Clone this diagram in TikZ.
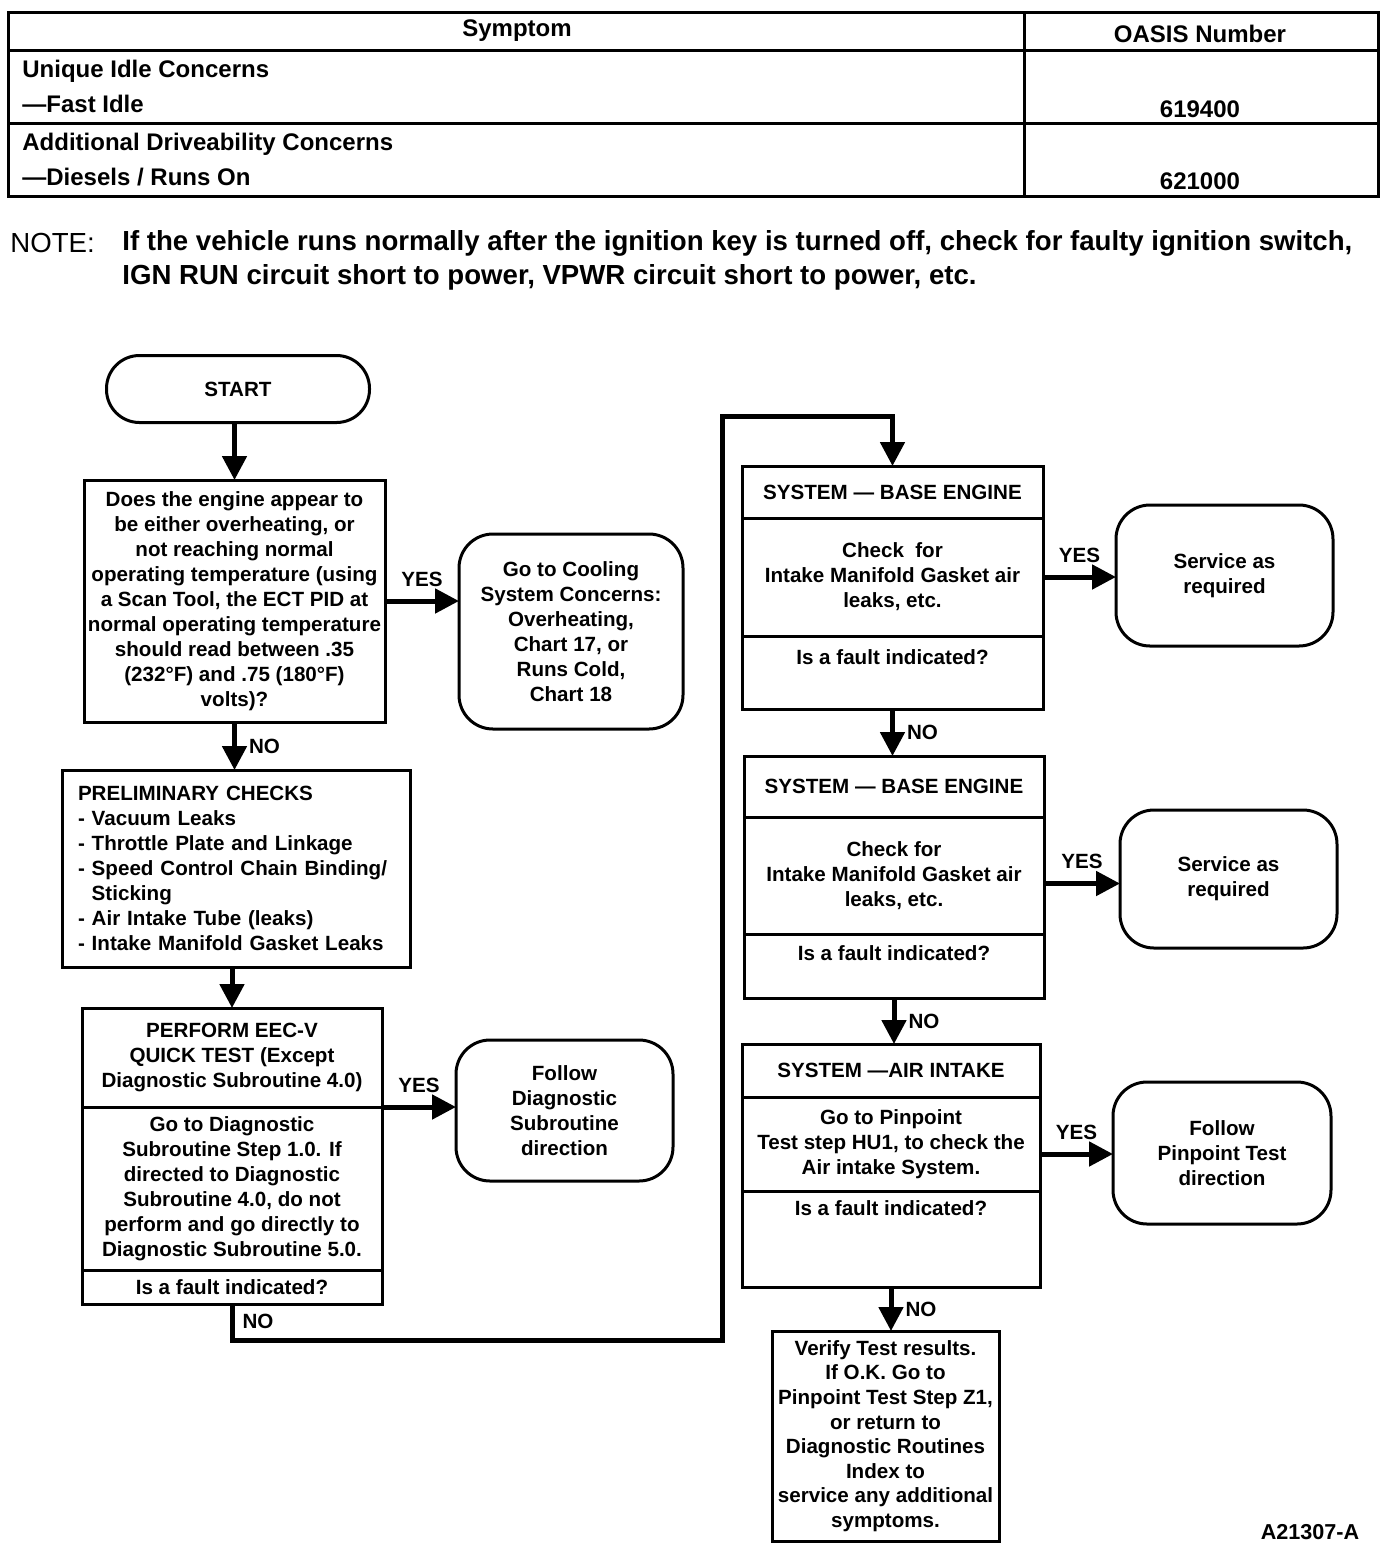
\documentclass[tikz,border=0pt]{standalone}
\usepackage{fontspec}
\setmainfont{Liberation Sans}
\usetikzlibrary{arrows.meta,positioning}

\newcommand\flowfont{\fontsize{10.3}{12.5}\selectfont\bfseries}
\newcommand\tabfont{\fontsize{12}{14}\selectfont\bfseries}
\newcommand\notefont{\fontsize{13.8}{17}\selectfont}

\begin{document}
\begin{tikzpicture}[x=0.5pt, y=-0.5pt, >={Triangle[length=12pt,width=12pt]},
  box/.style={draw, line width=1.5pt, outer sep=0pt, align=center, font=\flowfont, inner sep=1pt},
  rbox/.style={box, rounded corners=17pt},
  fault/.style={box, inner ysep=0pt},
  flow/.style={line width=2.5pt, ->},
  lbl/.style={font=\flowfont, inner sep=1pt},
  txt/.style={inner sep=0pt}]
\useasboundingbox (0,0) rectangle (1392,1560);
% symptom table
\draw[line width=1.5pt] (8,12) rectangle (1378,196);
\draw[line width=1.5pt] (8,50) -- (1378,50) (8,123) -- (1378,123) (1024,12) -- (1024,196);
\node[txt, font=\tabfont] (symhd) at (517,31) {Symptom};
\node[txt, font=\tabfont] (oasishd) at (1200,34) {OASIS Number};
\node[txt, font=\tabfont, anchor=west] (idle) at (22,71) {Unique Idle Concerns};
\node[txt, font=\tabfont, anchor=west] (fast) at (22,104) {—Fast Idle};
\node[txt, font=\tabfont] (num1) at (1200,109) {619400};
\node[txt, font=\tabfont, anchor=west] (drive) at (22,144) {Additional Driveability Concerns};
\node[txt, font=\tabfont, anchor=west] (diesel) at (22,177) {—Diesels / Runs On};
\node[txt, font=\tabfont] (num2) at (1200,181) {621000};
% note
\node[txt, font=\notefont, anchor=west] (notehd) at (10,243) {NOTE:};
\node[txt, font=\notefont\bfseries, anchor=west, align=left] (notetxt) at (122,260)
  {If the vehicle runs normally after the ignition key is turned off, check for faulty ignition switch,\\
   IGN RUN circuit short to power, VPWR circuit short to power, etc.};
% left column
\node[box, rounded corners=16.5pt, minimum width=131.5pt, minimum height=33.5pt] (start) at (238,389) {START};
\node[box, minimum width=150.5pt, minimum height=121pt] (q1) at (234.5,601)
  {Does the engine appear to\\be either overheating, or\\not reaching normal\\operating temperature (using\\
   a Scan Tool, the ECT PID at\\normal operating temperature\\should read between .35\\(232°F) and .75 (180°F)\\volts)?};
\node[rbox, minimum width=112pt, minimum height=97.5pt] (cool) at (571,631.5)
  {Go to Cooling\\System Concerns:\\Overheating,\\Chart 17, or\\Runs Cold,\\Chart 18};
\node[box, align=left, inner xsep=8pt, text width=158pt, minimum height=98.5pt] (prelim) at (236,868.5)
  {PRELIMINARY CHECKS\\- Vacuum Leaks\\- Throttle Plate and Linkage\\- Speed Control Chain Binding/\\
   \hphantom{-~}Sticking\\- Air Intake Tube (leaks)\\- Intake Manifold Gasket Leaks};
% quick test
\node[box, minimum width=150pt, minimum height=49.5pt] (ptitle) at (232,1057.5)
  {PERFORM EEC-V\\QUICK TEST (Except\\Diagnostic Subroutine 4.0)};
\node[box, minimum width=150pt, minimum height=81.5pt, below=0pt of ptitle] (pbody)
  {Go to Diagnostic\\Subroutine Step 1.0. If\\directed to Diagnostic\\Subroutine 4.0, do not\\
   perform and go directly to\\Diagnostic Subroutine 5.0.};
\node[box, minimum width=150pt, minimum height=17pt, below=0pt of pbody] (pfault) {Is a fault indicated?};
\node[rbox, minimum width=108.5pt, minimum height=70.5pt] (follow) at (564.5,1110.5)
  {Follow\\Diagnostic\\Subroutine\\direction};
% right column
\node[box, minimum width=150.5pt, minimum height=26pt] (atitle) at (892.5,492) {SYSTEM — BASE ENGINE};
\node[box, minimum width=150.5pt, minimum height=59pt, below=0pt of atitle] (abody)
  {Check~ for\\Intake Manifold Gasket air\\leaks, etc.};
\node[fault, minimum width=150.5pt, text height=14pt, text depth=22.5pt, below=0pt of abody] (afault)
  {Is a fault indicated?};
\node[rbox, minimum width=108.5pt, minimum height=70.5pt] (serv1) at (1224.5,575.5) {Service as\\required};
\node[box, minimum width=150pt, minimum height=30.5pt] (btitle) at (894,786.5) {SYSTEM — BASE ENGINE};
\node[box, minimum width=150pt, minimum height=58.5pt, below=0pt of btitle] (bbody)
  {Check for\\Intake Manifold Gasket air\\leaks, etc.};
\node[fault, minimum width=150pt, text height=13pt, text depth=19pt, below=0pt of bbody] (bfault)
  {Is a fault indicated?};
\node[rbox, minimum width=108.5pt, minimum height=69pt] (serv2) at (1228.5,879) {Service as\\required};
\node[box, minimum width=149pt, minimum height=26.5pt] (ctitle) at (891,1070.5) {SYSTEM —AIR INTAKE};
\node[box, minimum width=149pt, minimum height=47pt, below=0pt of ctitle] (cbody)
  {Go to Pinpoint\\Test step HU1, to check the\\Air intake System.};
\node[fault, minimum width=149pt, text height=12pt, text depth=36pt, below=0pt of cbody] (cfault)
  {Is a fault indicated?};
\node[rbox, minimum width=109pt, minimum height=71pt] (pin) at (1222,1153) {Follow\\Pinpoint Test\\direction};
\node[box, font=\fontsize{10.3}{12.3}\selectfont\bfseries, minimum width=113.5pt, minimum height=105pt] (verify) at (885.5,1436)
  {Verify Test results.\\If O.K. Go to\\Pinpoint Test Step Z1,\\or return to\\Diagnostic Routines\\Index to\\
   service any additional\\symptoms.};
\node[txt, font=\fontsize{10.8}{13}\selectfont\bfseries] (figid) at (1310,1532) {A21307-A};
% connectors
\draw[flow] (start.south -| q1.north) -- (q1.north);
\draw[flow] (q1.east) -- node[lbl, above=5pt] {YES} (q1.east -| cool.west);
\draw[flow] (q1.south) -- node[lbl, right=5pt] {NO} (q1.south |- prelim.north);
\draw[flow] (prelim.south -| ptitle.north) -- (ptitle.north);
\draw[flow] (ptitle.south east) -- node[lbl, above=5pt] {YES} (ptitle.south east -| follow.west);
\coordinate (lowrun) at (722,1340);
\coordinate (toprun) at (atitle.north |- 0,416);
\draw[flow] (pfault.south) |- (lowrun) |- (toprun) -- (atitle.north);
\node[lbl] (no1) at (258,1321) {NO};
\draw[flow] (abody.east) -- node[lbl, above=5pt] {YES} (abody.east -| serv1.west);
\draw[flow] (afault.south) -- node[lbl, right=5pt] {NO} (afault.south |- btitle.north);
\draw[flow] ([yshift=-4pt]bbody.east) -- node[lbl, above=5pt] {YES} ([yshift=-4pt]bbody.east -| serv2.west);
\draw[flow] (bfault.south) -- node[lbl, right=5pt] {NO} (bfault.south |- ctitle.north);
\draw[flow] ([yshift=-5pt]cbody.east) -- node[lbl, above=5pt] {YES} ([yshift=-5pt]cbody.east -| pin.west);
\draw[flow] (cfault.south) -- node[lbl, right=5pt] {NO} (cfault.south |- verify.north);
\end{tikzpicture}
\end{document}
